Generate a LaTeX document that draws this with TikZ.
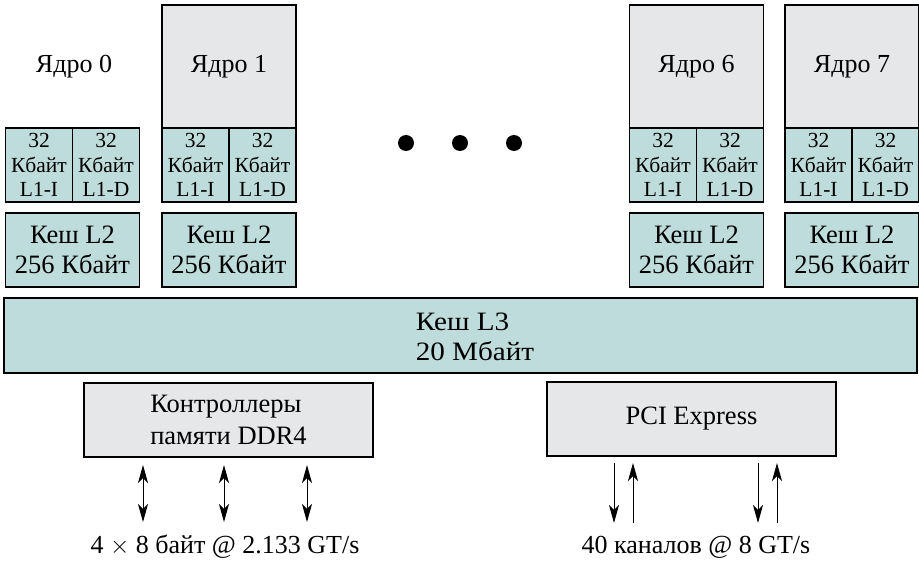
\documentclass[tikz,border=0pt]{standalone}
\usepackage{fontspec}
\setmainfont{Liberation Serif}
\newfontfamily\widefont[FakeStretch=1.1]{Liberation Serif}
\usetikzlibrary{arrows, arrows.meta}
\definecolor{cachecol}{HTML}{BDDCDB}
\definecolor{coregray}{HTML}{E6E7E9}
\tikzstyle{core} = [rectangle, draw=black, fill=coregray, line width=1.1pt, minimum width=134pt, minimum height=123pt, inner sep=0pt, font=\fontsize{26}{30}\selectfont]
\tikzstyle{lone} = [rectangle, draw=black, fill=cachecol, line width=1.1pt, minimum width=67pt, minimum height=74pt, inner sep=0pt, align=center, font=\fontsize{21.5}{24.5}\selectfont]
\tikzstyle{ltwo} = [rectangle, draw=black, fill=cachecol, line width=1.1pt, minimum width=134pt, minimum height=74pt, inner sep=0pt, align=center, font=\fontsize{26.5}{30}\selectfont]
\tikzstyle{ctrl} = [rectangle, draw=black, fill=coregray, line width=1.1pt, minimum width=289pt, minimum height=74pt, inner sep=0pt, align=left, font=\fontsize{26.5}{32}\selectfont]
\tikzstyle{bus} = [line width=1pt, >={Stealth[length=18pt,width=10pt,inset=5pt]}]

\begin{document}
\begin{tikzpicture}[x=1pt, y=-1pt]
        \useasboundingbox (0,0) rectangle (919,562);
        % core 0 (no core box)
        \node (c0) [font=\fontsize{26}{30}\selectfont] at (74,66.5) {Ядро 0};
        \node (c0i) [lone] at (39,165) {32\\Кбайт\\L1-I};
        \node (c0d) [lone] at (106,165) {32\\Кбайт\\L1-D};
        \node (c0l2) [ltwo] at (72.5,250) {Кеш L2\\256 Кбайт};
        % core 1
        \node (c1) [core] at (229,66.5) {Ядро 1};
        \node (c1i) [lone] at (195.5,165) {32\\Кбайт\\L1-I};
        \node (c1d) [lone] at (262.5,165) {32\\Кбайт\\L1-D};
        \node (c1l2) [ltwo] at (229,250) {Кеш L2\\256 Кбайт};
        % dots
        \fill (406,143) circle (8pt) (460,143) circle (8pt) (514,143) circle (8pt);
        % core 6
        \node (c6) [core] at (696.5,66.5) {Ядро 6};
        \node (c6i) [lone] at (663,165) {32\\Кбайт\\L1-I};
        \node (c6d) [lone] at (730,165) {32\\Кбайт\\L1-D};
        \node (c6l2) [ltwo] at (696.5,250) {Кеш L2\\256 Кбайт};
        % core 7
        \node (c7) [core] at (852,66.5) {Ядро 7};
        \node (c7i) [lone] at (818.5,165) {32\\Кбайт\\L1-I};
        \node (c7d) [lone] at (885.5,165) {32\\Кбайт\\L1-D};
        \node (c7l2) [ltwo] at (852,250) {Кеш L2\\256 Кбайт};
        % L3
        \node (l3) [ltwo, minimum width=913pt, minimum height=75pt] at (460.5,335.5) {};
        \node (l3txt) [align=left, font=\widefont\fontsize{26.5}{30}\selectfont] at (475,337) {Кеш L3\\20 Мбайт};
        % controllers
        \node (mem) [ctrl] at (228.5,420) {Контроллеры\\памяти DDR4};
        \node (pci) [ctrl] at (691.5,419) {PCI Express};
        \node (memtxt) [font=\fontsize{26}{30}\selectfont] at (225,547) {4 $\times$ 8 байт @ 2.133 GT/s};
        \node (pcitxt) [font=\fontsize{26}{30}\selectfont] at (696,547) {40 каналов @ 8 GT/s};

        \coordinate (m1a) at (143,465); \coordinate (m1b) at (143,522);
        \coordinate (m2a) at (224,465); \coordinate (m2b) at (224,522);
        \coordinate (m3a) at (307,465); \coordinate (m3b) at (307,522);
        \draw [bus,<->] (m1a)--(m1b);
        \draw [bus,<->] (m2a)--(m2b);
        \draw [bus,<->] (m3a)--(m3b);

        \coordinate (p1a) at (614,463); \coordinate (p1b) at (614,523);
        \coordinate (p2a) at (633,463); \coordinate (p2b) at (633,523);
        \coordinate (p3a) at (758,463); \coordinate (p3b) at (758,523);
        \coordinate (p4a) at (777,463); \coordinate (p4b) at (777,523);
        \draw [bus,->] (p1a)--(p1b);
        \draw [bus,->] (p2b)--(p2a);
        \draw [bus,->] (p3a)--(p3b);
        \draw [bus,->] (p4b)--(p4a);
\end{tikzpicture}
\end{document}
